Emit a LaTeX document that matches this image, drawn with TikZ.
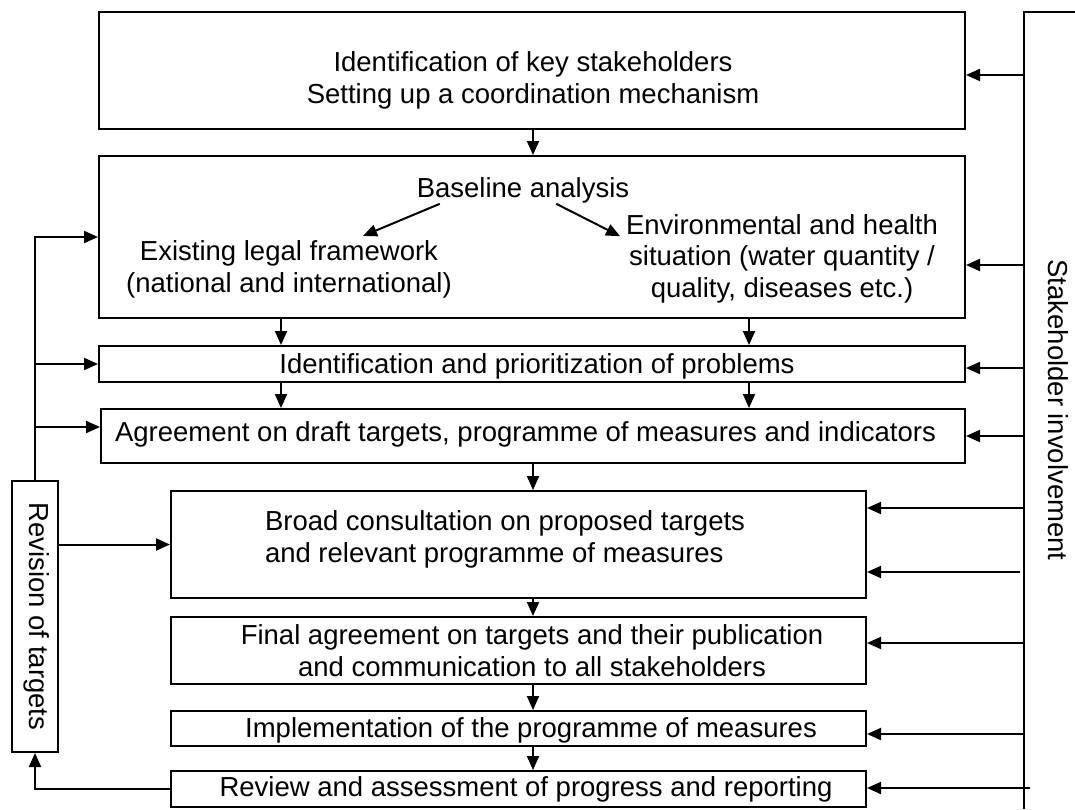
\documentclass[tikz,border=0pt]{standalone}
\usepackage{fontspec}
\setmainfont{Liberation Sans}
\usetikzlibrary{arrows.meta}

\begin{document}
\begin{tikzpicture}[x=1pt, y=-1pt, line width=2pt,
		>={Triangle[length=14pt, width=12pt]},
		every node/.style={font=\fontsize{27.5}{31.5}\selectfont, inner sep=0pt},
		box/.style 2 args={draw, rectangle, minimum width=#1, minimum height=#2},
		txt/.style={align=center}]
		\def\wide{866}
		\def\narrow{695}
		\useasboundingbox (0, 0) rectangle (1075, 809);
		\node[box={\wide}{117}] (top) at (532, 70.5) {};
		\node[box={\wide}{162}] (base) at (532, 237) {};
		\node[box={\wide}{36}] (prob) at (532, 364) {};
		\node[box={864}{54}] (agree) at (533, 436) {};
		\node[box={\narrow}{107}] (broad) at (518.5, 544.5) {};
		\node[box={\narrow}{67}] (final) at (518.5, 650.5) {};
		\node[box={\narrow}{35}] (impl) at (518.5, 728.5) {};
		\node[box={\narrow}{36}] (review) at (518.5, 789) {};
		\node[box={46}{271}] (rev) at (35, 616.5) {};
		\node[txt] (toptxt) at (533, 80.5) {Identification of key stakeholders\\Setting up a coordination mechanism};
		\node (ba) at (523, 190) {Baseline analysis};
		\node[txt] (el) at (289, 269.5) {Existing legal framework\\(national and international)};
		\node[txt] (env) at (782, 258.5) {Environmental and health\\situation (water quantity /\\quality, diseases etc.)};
		\node (probtxt) at (537, 366) {Identification and prioritization of problems};
		\node (agreetxt) at (525.5, 434) {Agreement on draft targets, programme of measures and indicators};
		\node[align=left, anchor=west] (broadtxt) at (264, 539.5) {Broad consultation on proposed targets\\and relevant programme of measures};
		\node[txt] (finaltxt) at (532, 650.5) {Final agreement on targets and their publication\\and communication to all stakeholders};
		\node (impltxt) at (531, 730) {Implementation of the programme of measures};
		\node (reviewtxt) at (526, 789) {Review and assessment of progress and reporting};
		\node[rotate=-90] (revtxt) at (37, 616.5) {Revision of targets};
		\node[rotate=-90] (shtxt) at (1058, 410) {Stakeholder involvement};
		\coordinate (mid) at (533, 0);
		\coordinate (lft) at (281, 0);
		\coordinate (rgt) at (749, 0);
		\coordinate (shtop) at (1024, 12);
		\coordinate (shbot) at (1024, 809);
		\coordinate (shend) at (1075, 12);
		\draw[->] (top.south -| mid) -- (base.north -| mid);
		\draw[->] (base.south -| lft) -- (prob.north -| lft);
		\draw[->] (base.south -| rgt) -- (prob.north -| rgt);
		\draw[->] (prob.south -| lft) -- (agree.north -| lft);
		\draw[->] (prob.south -| rgt) -- (agree.north -| rgt);
		\draw[->] (agree.south -| mid) -- (broad.north -| mid);
		\draw[->] (broad.south -| mid) -- (final.north -| mid);
		\draw[->] (final.south -| mid) -- (impl.north -| mid);
		\draw[->] (impl.south -| mid) -- (review.north -| mid);
		\draw[->] ([xshift=24pt]ba.south west) -- ([xshift=74pt, yshift=4pt]el.north);
		\draw[->] ([xshift=-74pt]ba.south east) -- ([xshift=-5pt, yshift=-23pt]env.north west);
		\draw[->] (rev.north) |- (base.west);
		\draw[->] (rev.north |- prob.west) -- (prob.west);
		\draw[->] ([yshift=9pt]agree.west -| rev.north) -- ([yshift=9pt]agree.west);
		\draw[->] (rev.east |- broad.west) -- (broad.west);
		\draw[->] (review.west) -| (rev.south);
		\draw (shend) -- (shtop) -- (shbot);
		\draw[->] ([yshift=-4.5pt]top.east -| shtop) -- ([yshift=-4.5pt]top.east);
		\draw[->] ([yshift=-28pt]base.east -| shtop) -- ([yshift=-28pt]base.east);
		\draw[->] ([yshift=-4pt]prob.east -| shtop) -- ([yshift=-4pt]prob.east);
		\draw[->] (agree.east -| shtop) -- (agree.east);
		\draw[->] ([yshift=36.5pt]broad.east -| shtop) -- ([yshift=36.5pt]broad.east);
		\draw[->] ([xshift=-4pt, yshift=-27.5pt]broad.east -| shtop) -- ([yshift=-27.5pt]broad.east);
		\draw[->] ([yshift=7.5pt]final.east -| shtop) -- ([yshift=7.5pt]final.east);
		\draw[->] ([yshift=-5.5pt]impl.east -| shtop) -- ([yshift=-5.5pt]impl.east);
		\draw[->] ([xshift=6pt, yshift=1pt]review.east -| shtop) -- ([yshift=1pt]review.east);
	\end{tikzpicture}
\end{document}
